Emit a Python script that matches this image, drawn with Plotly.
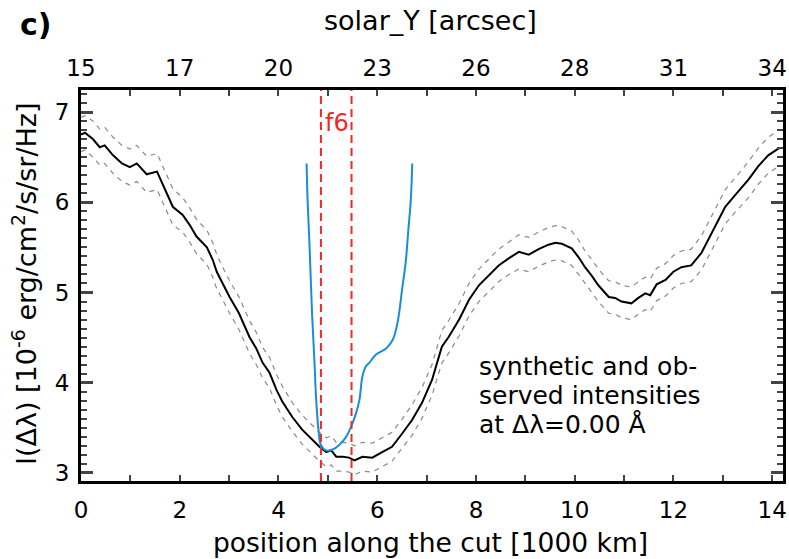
import plotly.graph_objects as go

# observed intensity (black) along the cut [1000 km]
obs_x = [0.00, 0.08, 0.24, 0.38, 0.48, 0.65, 0.83, 0.99, 1.13, 1.33, 1.54, 1.74, 1.86, 2.06, 2.20,
         2.34, 2.55, 2.67, 2.75, 2.87, 3.01, 3.20, 3.41, 3.55, 3.68, 3.82, 3.96, 4.08, 4.28, 4.48,
         4.69, 4.83, 4.97, 5.07, 5.17, 5.30, 5.43, 5.54, 5.70, 5.90, 6.10, 6.30, 6.51, 6.71, 6.91,
         7.11, 7.31, 7.45, 7.66, 7.86, 8.06, 8.26, 8.46, 8.67, 8.87, 9.07, 9.27, 9.47, 9.61, 9.74,
         9.94, 10.08, 10.21, 10.34, 10.48, 10.69, 10.82, 10.95, 11.15, 11.29, 11.43, 11.53, 11.66,
         11.84, 12.00, 12.16, 12.36, 12.57, 12.77, 13.05, 13.25, 13.52, 13.72, 13.92, 14.14]
obs_y = [6.75, 6.77, 6.70, 6.61, 6.63, 6.52, 6.43, 6.39, 6.43, 6.31, 6.34, 6.10, 5.95, 5.86, 5.75,
         5.62, 5.50, 5.36, 5.23, 5.10, 4.95, 4.77, 4.51, 4.38, 4.22, 4.11, 3.92, 3.79, 3.62, 3.48,
         3.37, 3.29, 3.23, 3.25, 3.18, 3.18, 3.17, 3.14, 3.18, 3.17, 3.23, 3.29, 3.44, 3.59, 3.78,
         4.03, 4.40, 4.51, 4.70, 4.92, 5.08, 5.19, 5.30, 5.38, 5.45, 5.42, 5.48, 5.53, 5.55, 5.54,
         5.49, 5.39, 5.28, 5.19, 5.08, 4.95, 4.94, 4.90, 4.88, 4.94, 4.99, 4.97, 5.09,
         5.14, 5.23, 5.28, 5.30, 5.44, 5.66, 5.95, 6.08, 6.25, 6.40, 6.52, 6.60]
# uncertainty of the observed intensity (grey dashed envelope)
obs_err = [0.19, 0.19, 0.20, 0.20, 0.20, 0.20, 0.20, 0.20, 0.20, 0.20, 0.20, 0.20, 0.20, 0.19, 0.19,
           0.19, 0.19, 0.19, 0.19, 0.18, 0.18, 0.18, 0.18, 0.18, 0.17, 0.17, 0.17, 0.17, 0.16, 0.16,
           0.16, 0.16, 0.16, 0.16, 0.16, 0.16, 0.16, 0.16, 0.16, 0.16, 0.16, 0.16, 0.16, 0.17, 0.17,
           0.17, 0.18, 0.18, 0.18, 0.18, 0.18, 0.18, 0.18, 0.18, 0.19, 0.19, 0.19, 0.19, 0.19, 0.19,
           0.19, 0.19, 0.18, 0.18, 0.18, 0.18, 0.18, 0.18, 0.18, 0.18, 0.18, 0.18, 0.18,
           0.18, 0.18, 0.18, 0.18, 0.19, 0.19, 0.19, 0.19, 0.20, 0.20, 0.20, 0.20]

# synthetic intensity (blue)
syn_x = [4.57, 4.59, 4.63, 4.68, 4.73, 4.76, 4.81, 4.86, 4.96, 5.10, 5.23, 5.37, 5.47, 5.57, 5.64,
         5.70, 5.77, 5.84, 5.97, 6.18, 6.31, 6.41, 6.51, 6.58, 6.63, 6.68, 6.71]
syn_y = [6.43, 6.02, 5.51, 4.77, 4.22, 3.85, 3.48, 3.31, 3.25, 3.26, 3.31, 3.40, 3.51, 3.66, 3.81,
         4.07, 4.18, 4.22, 4.31, 4.38, 4.47, 4.66, 5.06, 5.35, 5.69, 6.02, 6.43]

# f6 region boundaries
f6_bounds = [4.86, 5.48]

# axes
x_range = [0, 14.22]
y_range = [2.911, 7.244]
x_ticks = [0, 2, 4, 6, 8, 10, 12, 14]
top_labels = ["15", "17", "20", "23", "26", "28", "31", "34"]
y_ticks = [3, 4, 5, 6, 7]

FONT = "DejaVu Sans"

upper = [y + e for y, e in zip(obs_y, obs_err)]
lower = [y - e for y, e in zip(obs_y, obs_err)]

fig = go.Figure()
for env in (upper, lower):
    fig.add_trace(go.Scatter(x=obs_x, y=env, mode="lines",
                             line=dict(color="#8a8a8a", width=1.2, dash="5px,5px"),
                             showlegend=False, hoverinfo="skip"))
fig.add_trace(go.Scatter(x=obs_x, y=obs_y, mode="lines",
                         line=dict(color="black", width=2), showlegend=False))
fig.add_trace(go.Scatter(x=syn_x, y=syn_y, mode="lines", line_shape="spline",
                         line=dict(color="#1a8cd8", width=2), showlegend=False))
for xb in f6_bounds:
    fig.add_trace(go.Scatter(x=[xb, xb], y=y_range, mode="lines",
                             line=dict(color="#f02828", width=2, dash="8px,5px"),
                             showlegend=False, hoverinfo="skip"))
# dummy trace for the top axis
fig.add_trace(go.Scatter(x=[x_range[0]], y=[None], xaxis="x2", mode="lines",
                         showlegend=False, hoverinfo="skip"))

W, H = 789, 559
L, R, T, B = 81, 6, 90, 78
pw, ph = W - L - R, H - T - B


def px(xp):
    return (xp - L) / pw


def py(yp):
    return (H - B - yp) / ph


def label(text, x, y, size, color="black", xanchor="center", angle=0):
    return dict(text=text, x=px(x), y=py(y), xref="paper", yref="paper",
                xanchor=xanchor, yanchor="middle", textangle=angle, showarrow=False,
                font=dict(family=FONT, size=size, color=color))


tickfont = dict(family=FONT, size=23, color="black")
fig.update_layout(
    width=W, height=H,
    margin=dict(l=L, r=R, t=T, b=B, pad=0, autoexpand=False),
    paper_bgcolor="white", plot_bgcolor="white",
    xaxis=dict(range=x_range, tickvals=x_ticks, ticks="inside", ticklen=6, tickwidth=2,
               showline=True, linecolor="black", linewidth=3, mirror="ticks",
               automargin=False,
               showgrid=False, zeroline=False, tickfont=tickfont, ticklabelstandoff=6,
               minor=dict(dtick=1, tick0=0, ticks="inside", ticklen=6, tickwidth=2,
                          showgrid=False)),
    xaxis2=dict(range=x_range, overlaying="x", side="top", tickvals=x_ticks,
                ticktext=top_labels, ticks="", showline=False, showgrid=False,
                automargin=False,
                zeroline=False, tickfont=tickfont, ticklabelstandoff=8),
    yaxis=dict(range=y_range, tickvals=y_ticks, ticks="inside", ticklen=12, tickwidth=2.5,
               showline=True, linecolor="black", linewidth=3, mirror="ticks",
               automargin=False,
               showgrid=False, zeroline=False, tickfont=tickfont, ticklabelstandoff=4,
               minor=dict(dtick=0.1, tick0=0, ticks="inside", ticklen=6, tickwidth=2,
                          showgrid=False)),
    annotations=[
        label("<b>c)</b>", 36, 24, 30),
        label("solar_Y [arcsec]", 430, 20, 27),
        label("position along the cut [1000 km]", 430, 542, 26.5),
        label("I(Δλ) [10<sup>-6</sup> erg/cm<sup>2</sup>/s/sr/Hz]", 24, 284, 27, angle=-90),
        label("f6", 337, 123, 24, color="#f02828"),
        label("synthetic and ob-", 477, 366, 25, xanchor="left"),
        label("served intensities", 477, 395, 25, xanchor="left"),
        label("at Δλ=0.00 Å", 477, 424, 25, xanchor="left"),
    ],
)

fig.write_html("out.html", config={"displayModeBar": False},
               post_script="document.body.style.margin='0';")
